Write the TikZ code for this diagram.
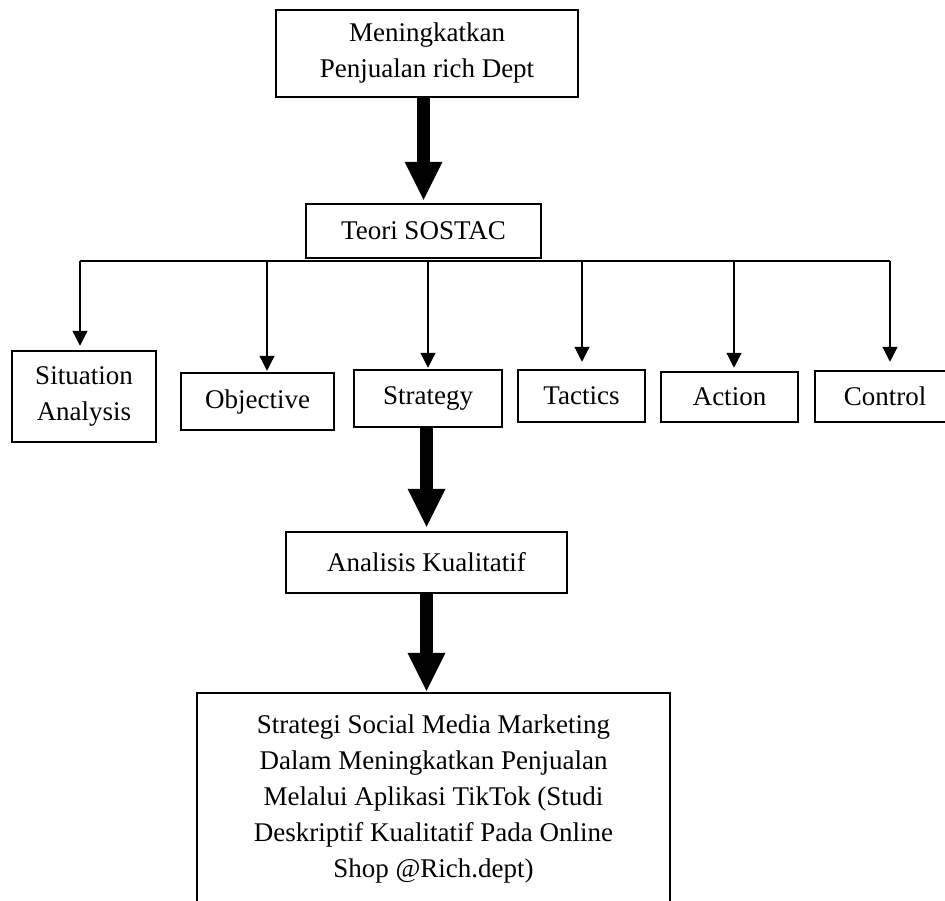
\documentclass[tikz,border=0pt]{standalone}
\usepackage{fontspec}
\setmainfont{Liberation Serif}
\usetikzlibrary{arrows.meta,positioning,calc}

\begin{document}
\begin{tikzpicture}[x=1pt, y=1pt, font=\fontsize{27}{36}\selectfont,
        box/.style={draw, line width=2.5pt, align=center, inner sep=0pt},
        link/.style={line width=1.2pt, -{Triangle[width=15pt,length=15pt]}},
        bigarrow/.style={line width=13pt, -{Triangle[width=38pt,length=38pt,line width=0pt]}}]
        \useasboundingbox (0,0) rectangle (945,-900);
        \clip (0,0) rectangle (945,-900);

        % Top
        \node[box, minimum width=302, minimum height=87] (goal) at (427,-53.5)
            {Meningkatkan\\Penjualan rich Dept};
        \node[box, minimum width=235, minimum height=54] (sostac) at (423.5,-231) {Teori SOSTAC};

        % SOSTAC steps
        \node[box, minimum width=144, minimum height=91] (situation) at (84,-396.5) {Situation\\Analysis};
        \node[box, minimum width=153, minimum height=57] (objective) at (257.5,-401.5) {Objective};
        \node[box, minimum width=148, minimum height=57] (strategy) at (428,-398.5) {Strategy};
        \node[box, minimum width=127, minimum height=52] (tactics) at (581.5,-396) {Tactics};
        \node[box, minimum width=137, minimum height=50] (action) at (729.5,-397) {Action};
        \node[box, minimum width=140, minimum height=51] (control) at (885,-396.5) {Control};

        % Bottom
        \node[box, minimum width=281, minimum height=61] (analisis) at (426.5,-562.5) {Analisis Kualitatif};
        \node[box, minimum width=473, minimum height=212] (result) at (433.5,-799)
            {Strategi Social Media Marketing\\Dalam Meningkatkan Penjualan\\Melalui Aplikasi TikTok (Studi\\
             Deskriptif Kualitatif Pada Online\\Shop @Rich.dept)};

        % Branches
        \foreach \n/\px/\gap in {situation/80/4, objective/267/1, strategy/428/1,
                                 tactics/582/7, action/734/3, control/890/8} {
            \coordinate (d-\n) at (\px,-261);
            \draw[link, shorten >=\gap pt] (d-\n) -- (d-\n |- \n.north);
        }
        \draw[line width=1.2pt] (d-situation) -- (d-control);

        % Thick arrows
        \draw[bigarrow, shorten >=3pt] (goal.south -| sostac.north) -- (sostac.north);
        \draw[bigarrow, shorten >=4pt] (strategy.south -| analisis.north) -- (analisis.north);
        \draw[bigarrow, shorten >=1pt] (analisis.south) -- (analisis.south |- result.north);
\end{tikzpicture}
\end{document}
